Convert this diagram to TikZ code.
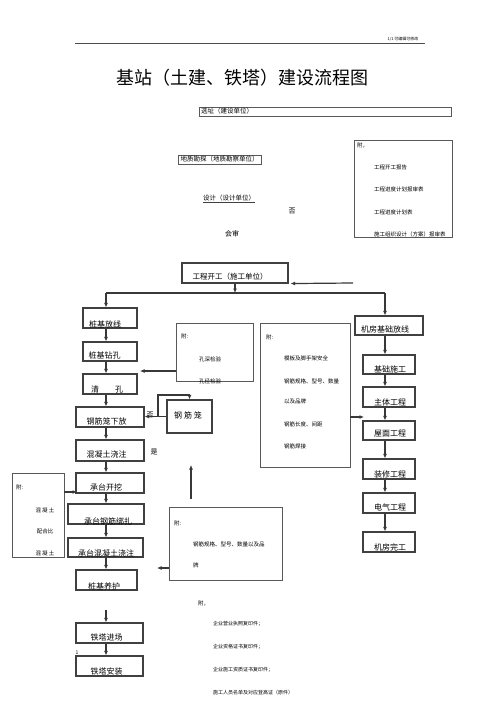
\documentclass[tikz,border=0pt]{standalone}
\usepackage{fontspec}
\setmainfont{Noto Sans CJK SC}
\usetikzlibrary{arrows.meta}
\newcommand\fsz[1]{\fontsize{#1}{#1}\selectfont}
\definecolor{linec}{gray}{0.22}
\tikzset{
  box/.style={draw=black!75, line width=1.1pt, inner sep=0pt},
  note/.style={draw=black!65, line width=0.9pt, inner sep=0pt},
  lab/.style={inner sep=0pt},
  big/.style={lab, font=\fsz{8}},
  mid/.style={lab, font=\fsz{7}},
  top/.style={lab, font=\fsz{6.5}},
  sm/.style={lab, font=\fsz{5.5}, anchor=west},
  smc/.style={lab, font=\fsz{5.5}},
  conn/.style={draw=linec, line width=1.2pt, arrows={-Latex[length=4.5pt,width=4pt]}},
  wire/.style={draw=linec, line width=1.2pt}
}
\begin{document}
\begin{tikzpicture}[x=1pt,y=-1pt]
\useasboundingbox (0,0) rectangle (500,708);
% header
\coordinate (hl) at (75,43);
\coordinate (hr) at (425,43);
\draw[draw=black!70, line width=0.6pt] (hl) -- (hr);
\node[lab, font=\fsz{4}] (hdr) at (403,39) {1/1 可编辑可修改};
% title
\node[lab, font=\fsz{18}] (title) at (242.5,78) {基站（土建、铁塔）建设流程图};
% top boxes
\node[note, anchor=north west, minimum width=252, minimum height=9] (sel) at (199,107) {};
\node[top, anchor=west] (selt) at (201,111.5) {选址（建设单位）};
\node[note, minimum width=83, minimum height=9] (geo) at (219.5,159.5) {};
\node[top] (geot) at (219.5,159.5) {地质勘探（地质勘察单位）};
\node[top] (des) at (229,198) {设计（设计单位）};
\draw[draw=black!75, line width=0.8pt] ([yshift=-1.5pt]des.south west) -- ([yshift=-1.5pt]des.south east);
\node[mid] (no1) at (292,211) {否};
\node[mid] (hs) at (232,234) {会审};
% top-right note
\node[note, minimum width=98, minimum height=97] (side) at (403,188.5) {};
\node[sm] (sidea) at (357,145) {附，};
\node[sm] (side1) at (374,167) {工程开工报告};
\node[sm] (side2) at (374,189) {工程进度计划报审表};
\node[sm] (side3) at (374,212) {工程进度计划表};
\node[sm] (side4) at (374,234) {施工组织设计（方案）报审表};
% start
\node[box, minimum width=106, minimum height=20] (start) at (235,273) {};
\node[lab, font=\fsz{7.5}] (startt) at (230,277) {工程开工（施工单位）};
% left column
\node[box, minimum width=54, minimum height=20] (pf) at (110,318) {};
\node[big] (pft) at (105,324) {桩基放线};
\node[box, minimum width=54, minimum height=19] (zk) at (110,351.5) {};
\node[big] (zkt) at (104.5,355) {桩基钻孔};
\node[box, minimum width=54, minimum height=20] (qk) at (110,384) {};
\node[big] (qkt) at (107,389) {清　　孔};
\node[box, minimum width=68, minimum height=20] (gx) at (110,417) {};
\node[big] (gxt) at (106.5,421) {钢筋笼下放};
\node[box, minimum width=68, minimum height=21] (hnt) at (110,450.5) {};
\node[big] (hntt) at (106.5,454) {混凝土浇注};
\node[box, minimum width=68, minimum height=20] (ctkw) at (110,483) {};
\node[big] (ctkwt) at (106,487) {承台开挖};
\node[box, minimum width=76, minimum height=20] (ctgj) at (106,514) {};
\node[big] (ctgjt) at (108,521) {承台钢筋绑扎};
\node[box, minimum width=75, minimum height=19] (cthnt) at (105.5,547.5) {};
\node[big] (cthntt) at (106,553) {承台混凝土浇注};
\node[box, minimum width=61, minimum height=20] (zjyh) at (106.5,580) {};
\node[big] (zjyht) at (104,586) {桩基养护};
\node[box, minimum width=67, minimum height=20] (ttjc) at (109.5,633) {};
\node[big] (ttjct) at (106.5,637) {铁塔进场};
\node[box, minimum width=67, minimum height=20] (ttaz) at (109.5,666) {};
\node[big] (ttazt) at (106.5,671) {铁塔安装};
\node[lab, font=\fsz{5}] (one) at (77,653) {1};
% steel cage
\node[box, minimum width=45, minimum height=33] (gjl) at (189.5,416.5) {};
\node[big] (gjlt) at (188,415) {钢 筋 笼};
\node[mid] (no2) at (150,415) {否};
\node[mid] (yes) at (154,452) {是};
% hole check note
\node[note, minimum width=77, minimum height=58] (kj) at (214.5,352) {};
\node[sm] (kja) at (181,336) {附:};
\node[smc] (kj1) at (210,359) {孔深检验};
\node[smc] (kj2) at (210,381) {孔径检验};
% big note
\node[note, minimum width=90, minimum height=144] (bb) at (305,395) {};
\node[sm] (bba) at (266,337) {附:};
\node[sm] (bb1) at (284,358) {模板及脚手架安全};
\node[sm] (bb2) at (284,381) {钢筋规格、型号、数量};
\node[sm] (bb3) at (284,401) {以及品牌};
\node[sm] (bb4) at (284,424) {钢筋长度、间距};
\node[sm] (bb5) at (284,446) {钢筋焊接};
% right column
\node[box, minimum width=68, minimum height=19] (jfjc) at (389,325.5) {};
\node[big] (jfjct) at (385,329) {机房基础放线};
\node[box, minimum width=52, minimum height=19] (jcsg) at (389,364.5) {};
\node[big] (jcsgt) at (390,369) {基础施工};
\node[box, minimum width=52, minimum height=20] (ztgc) at (389,397) {};
\node[big] (ztgct) at (390,402) {主体工程};
\node[box, minimum width=52, minimum height=19] (wmgc) at (389,430.5) {};
\node[big] (wmgct) at (390,434) {屋面工程};
\node[box, minimum width=52, minimum height=20] (zsgc) at (389,469) {};
\node[big] (zsgct) at (390,474) {装修工程};
\node[box, minimum width=52, minimum height=20] (dqgc) at (389,503) {};
\node[big] (dqgct) at (390,507) {电气工程};
\node[box, minimum width=52, minimum height=20] (jfwg) at (389,542) {};
\node[big] (jfwgt) at (390,547) {机房完工};
% concrete note
\node[note, minimum width=52, minimum height=84] (hp) at (38,515) {};
\node[sm] (hpa) at (16,487) {附:};
\node[smc] (hp1) at (45,510) {混 凝 土};
\node[smc] (hp2) at (45,531) {配合比};
\node[smc] (hp3) at (45,553) {混 凝 土};
% rebar note
\node[note, minimum width=113, minimum height=73] (gg) at (225.5,543.5) {};
\node[sm] (gga) at (174,523) {附:};
\node[sm] (gg1) at (193,544) {钢筋规格、型号、数量以及品};
\node[sm] (gg2) at (193,565) {牌};
% bottom list
\node[sm] (bla) at (198,603) {附，};
\node[sm, font=\fsz{5}] (bl1) at (213,624) {企业营业执照复印件；};
\node[sm, font=\fsz{5}] (bl2) at (213,647) {企业资格证书复印件；};
\node[sm, font=\fsz{5}] (bl3) at (213,670) {企业施工资质证书复印件；};
\node[sm, font=\fsz{5}] (bl4) at (213,693) {施工人员名单及对应登高证（原件）};
% ---------- connectors ----------
\coordinate (lc) at (106,0);
\coordinate (rc) at (385,0);
\coordinate (bus) at (235,293);
\coordinate (ea) at (353,283);
\draw[conn] (ea) -- ([xshift=2pt]start.south east);
\draw[conn] (start.south) -- (bus);
\draw[wire] (lc |- bus) -- (rc |- bus);
\draw[conn] (lc |- bus) -- (pf.north -| lc);
\draw[conn] (rc |- bus) -- (jfjc.north -| rc);
\draw[conn] (pf.south -| lc) -- (zk.north -| lc);
\draw[conn] (zk.south -| lc) -- (qk.north -| lc);
\draw[conn] (qk.south -| lc) -- (gx.north -| lc);
\draw[conn] (gx.south -| lc) -- (hnt.north -| lc);
\draw[conn] (hnt.south -| lc) -- (ctkw.north -| lc);
\draw[conn] (ctkw.south -| lc) -- (ctgj.north -| lc);
\draw[conn] (ctgj.south -| lc) -- (cthnt.north -| lc);
\draw[conn] (cthnt.south -| lc) -- (zjyh.north -| lc);
\draw[conn] (ttjc.south -| lc) -- (ttaz.north -| lc);
\coordinate (tta) at (106,610);
\draw[conn] (tta) -- (ttjc.north -| lc);
\draw[conn] (jfjc.south -| rc) -- (jcsg.north -| rc);
\draw[conn] (jcsg.south -| rc) -- (ztgc.north -| rc);
\draw[conn] (ztgc.south -| rc) -- (wmgc.north -| rc);
\draw[conn] (wmgc.south -| rc) -- (zsgc.north -| rc);
\draw[conn] (zsgc.south -| rc) -- (dqgc.north -| rc);
\draw[conn] (dqgc.south -| rc) -- (jfwg.north -| rc);
\draw[conn] (gjl.west) -- (gjl.west -| gx.east);
\coordinate (lp) at (158,395);
\draw[conn] (lp |- gjl.west) -- (lp) -| (gjl.north);
\coordinate (qa) at (140,371);
\draw[conn] (kj.west |- qa) -- (qa);
\coordinate (wa) at (364,417);
\draw[conn] (bb.east |- wa) -- (wa);
\coordinate (ca) at (77,492);
\draw[conn] (hp.east |- ca) -- (ca);
\coordinate (gb) at (157,568);
\draw[conn] (gg.west |- gb) -- (gb);
\coordinate (ua) at (191,499);
\coordinate (ub) at (191,465);
\draw[conn] (ua) -- (ub);
\end{tikzpicture}
\end{document}
